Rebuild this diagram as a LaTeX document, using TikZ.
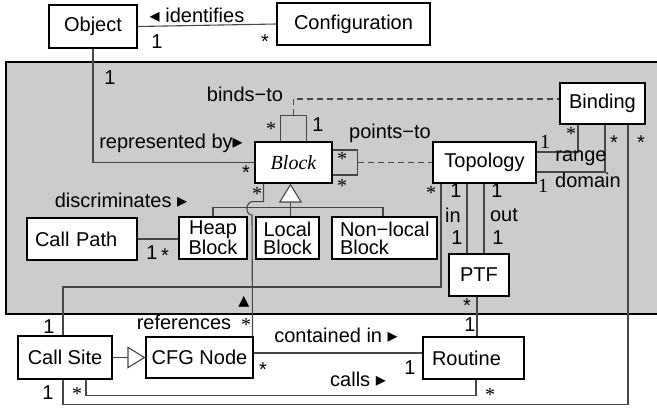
\documentclass[tikz,border=0pt]{standalone}
\usepackage{fontspec}
\setmainfont{Liberation Sans}
\newfontfamily\serifface{Liberation Serif}
\newfontfamily\symface{DejaVu Sans}
\usetikzlibrary{arrows.meta}
\definecolor{panelgray}{RGB}{204,204,204}
\definecolor{linegray}{RGB}{70,70,70}
\newcommand\ltri{{\symface ◂}}
\newcommand\rtri{{\symface ▸}}
\tikzset{
    cls/.style={draw, rectangle, fill=white, line width=1.1pt, inner sep=0pt, align=center, font=\fontsize{20}{18}\selectfont},
    assoc/.style={draw=linegray, line width=1.1pt},
    lbl/.style={inner sep=0pt, font=\fontsize{20}{22}\selectfont},
    smult/.style={lbl, yshift=-4pt},
    rmult/.style={lbl, yshift=-3pt, font=\serifface\fontsize{20}{22}\selectfont},
    rone/.style={lbl, font=\serifface\fontsize{20}{22}\selectfont},
    gen/.style={-{Triangle[length=18pt, width=22pt, fill=white]}}
}

\begin{document}
\begin{tikzpicture}[x=1pt, y=-1pt]
\useasboundingbox (0,0) rectangle (657,410);
\filldraw[fill=panelgray, draw=black, line width=1.1pt] (6,62) rectangle (670,314);

% classes
\node[cls, minimum width=88pt, minimum height=43pt] (obj) at (93,26.5) {Object};
\node[cls, minimum width=153pt, minimum height=42pt] (conf) at (353.5,24) {Configuration};
\node[cls, minimum width=77pt, minimum height=41pt, font=\serifface\itshape\fontsize{20}{22}\selectfont] (block) at (293.5,162.5) {Block};
\node[cls, minimum width=103pt, minimum height=41pt] (topo) at (484.5,162.5) {Topology};
\node[cls, minimum width=85pt, minimum height=41pt] (bind) at (602.5,103.5) {Binding};
\node[cls, minimum width=110pt, minimum height=42pt, text width=94pt, align=left] (path) at (82,239) {Call Path};
\node[cls, minimum width=68pt, minimum height=42pt] (heap) at (213,238) {Heap\\Block};
\node[cls, minimum width=63pt, minimum height=42pt] (local) at (287.5,238) {Local\\Block};
\node[cls, minimum width=105pt, minimum height=42pt, text width=89pt, align=left] (nonlocal) at (384.5,238) {Non−local\\Block};
\node[cls, minimum width=60pt, minimum height=42pt] (ptf) at (479,275) {PTF};
\node[cls, minimum width=94pt, minimum height=43pt] (site) at (65,357.5) {Call Site};
\node[cls, minimum width=107pt, minimum height=41pt] (cfg) at (199.5,357.5) {CFG Node};
\node[cls, minimum width=101pt, minimum height=42pt, text width=83pt, align=left] (rout) at (473.5,358) {Routine};

% associations
\draw[assoc] (obj.east) -- (conf.west);
\draw[assoc] (obj.south) |- (block.west);
\draw[assoc] ([xshift=26pt]block.north west) -- ++(0,-26) coordinate (loopl) -| ([xshift=52pt]block.north west);
\coordinate (looptop) at ([xshift=13pt]loopl);
\draw[assoc, dashed, dash pattern=on 6pt off 4pt] (looptop) |- ([yshift=4.5pt]bind.west);
\draw[assoc] ([yshift=12.5pt]block.east) -- ++(25,0) coordinate (loopr) |- ([yshift=-12.5pt]block.east);
\draw[assoc, dashed, dash pattern=on 6pt off 4pt] (loopr |- block.east) -- (topo.west);
\draw[assoc] ([yshift=10.5pt]topo.east) -| ([xshift=-24.5pt]bind.south);
\draw[assoc] ([yshift=-9.5pt]topo.east) -| ([xshift=2.5pt]bind.south);
\draw[assoc] ([xshift=25.5pt]bind.south) |- ([xshift=-2pt, yshift=-25pt]site.south) -- ([xshift=-2pt]site.south);
\coordinate (siteup) at (63,287);
\draw[assoc] ([xshift=-43.5pt]topo.south) |- (siteup) -- ([xshift=-2pt]site.north);
\draw[assoc] ([xshift=-17.5pt]topo.south) -- ([xshift=-17.5pt]topo.south |- ptf.north);
\draw[assoc] ([xshift=-0.5pt]topo.south) -- ([xshift=-0.5pt]topo.south |- ptf.north);
\draw[assoc] ([xshift=-2pt]ptf.south) -- ([xshift=-2pt]ptf.south |- rout.north);
\draw[assoc, gen] (site.east) -- (cfg.west);
\draw[assoc] ([yshift=4.5pt]cfg.east) -- ([yshift=4.5pt]cfg.east -| rout.west);
\draw[assoc] ([xshift=21pt]site.south) |- ([xshift=21pt, yshift=-16pt]site.south) -| ([xshift=2.5pt]rout.south);
\draw[assoc] ([xshift=9pt]block.south west) -- ++(0,18) -- ++(-10,0)
    .. controls (245,201) and (245,215) .. (252,215) -- ([xshift=-1pt]cfg.north east);
\draw[assoc] (heap.north) -- ++(0,-9) -| ([xshift=-1.5pt]nonlocal.north);
\draw[assoc, -{Triangle[length=19pt, width=23pt, fill=white]}] ([xshift=3pt]local.north) -- ([xshift=-3pt]block.south);
\draw[assoc] (path.east) -- (path.east -| heap.west);

% labels
\node[lbl] (lident) at (197,15) {\ltri\ identifies};
\node[lbl] (o1) at (157,42) {1};
\node[smult] (c1) at (265,38) {*};
\node[lbl] (o2) at (110,78) {1};
\node[lbl] (lrep) at (171,143) {represented by\rtri};
\node[smult] (b1) at (246,169) {*};
\node[rmult] (b2) at (271,126) {*};
\node[lbl] (b3) at (318,125) {1};
\node[lbl] (lbinds) at (245,94) {binds−to};
\node[lbl] (lpoints) at (390,133) {points−to};
\node[rmult] (b4) at (342,156) {*};
\node[rmult] (b5) at (342,183) {*};
\node[rmult] (n1) at (571,131) {*};
\node[rone] (t1) at (545,142) {1};
\node[smult] (n2) at (614,139) {*};
\node[smult] (n3) at (641,139) {*};
\node[lbl] (lrange) at (581,158) {range};
\node[lbl] (ldomain) at (588,180) {domain};
\node[rone] (t2) at (543,186) {1};
\node[rmult] (t3) at (431,190) {*};
\node[lbl] (t4) at (456,191) {1};
\node[lbl] (lin) at (453,215) {in};
\node[lbl] (p1) at (457,238) {1};
\node[lbl] (t5) at (497,191) {1};
\node[lbl] (lout) at (504,215) {out};
\node[lbl] (p2) at (498,238) {1};
\node[smult] (p3) at (467,302) {*};
\node[lbl] (r1) at (470,325) {1};
\node[lbl] (ldisc) at (121,200) {discriminates \rtri};
\node[lbl] (h1) at (152,253) {1};
\node[smult] (h2) at (165,252) {*};
\node[rmult] (b6) at (257,191) {*};
\node[lbl, font=\symface\fontsize{22}{22}\selectfont] (lup) at (244,302) {▴};
\node[lbl] (lref) at (184,322) {references};
\node[rmult] (g1) at (246,322) {*};
\node[lbl] (s1) at (49,327) {1};
\node[lbl] (lcont) at (336,335) {contained in \rtri};
\node[smult] (g2) at (263,366) {*};
\node[lbl] (lcalls) at (358,379) {calls \rtri};
\node[lbl] (r2) at (410,368) {1};
\node[rmult] (r3) at (490,392) {*};
\node[rmult] (s2) at (77,391) {*};
\node[lbl] (s3) at (48,393) {1};
\end{tikzpicture}
\end{document}
